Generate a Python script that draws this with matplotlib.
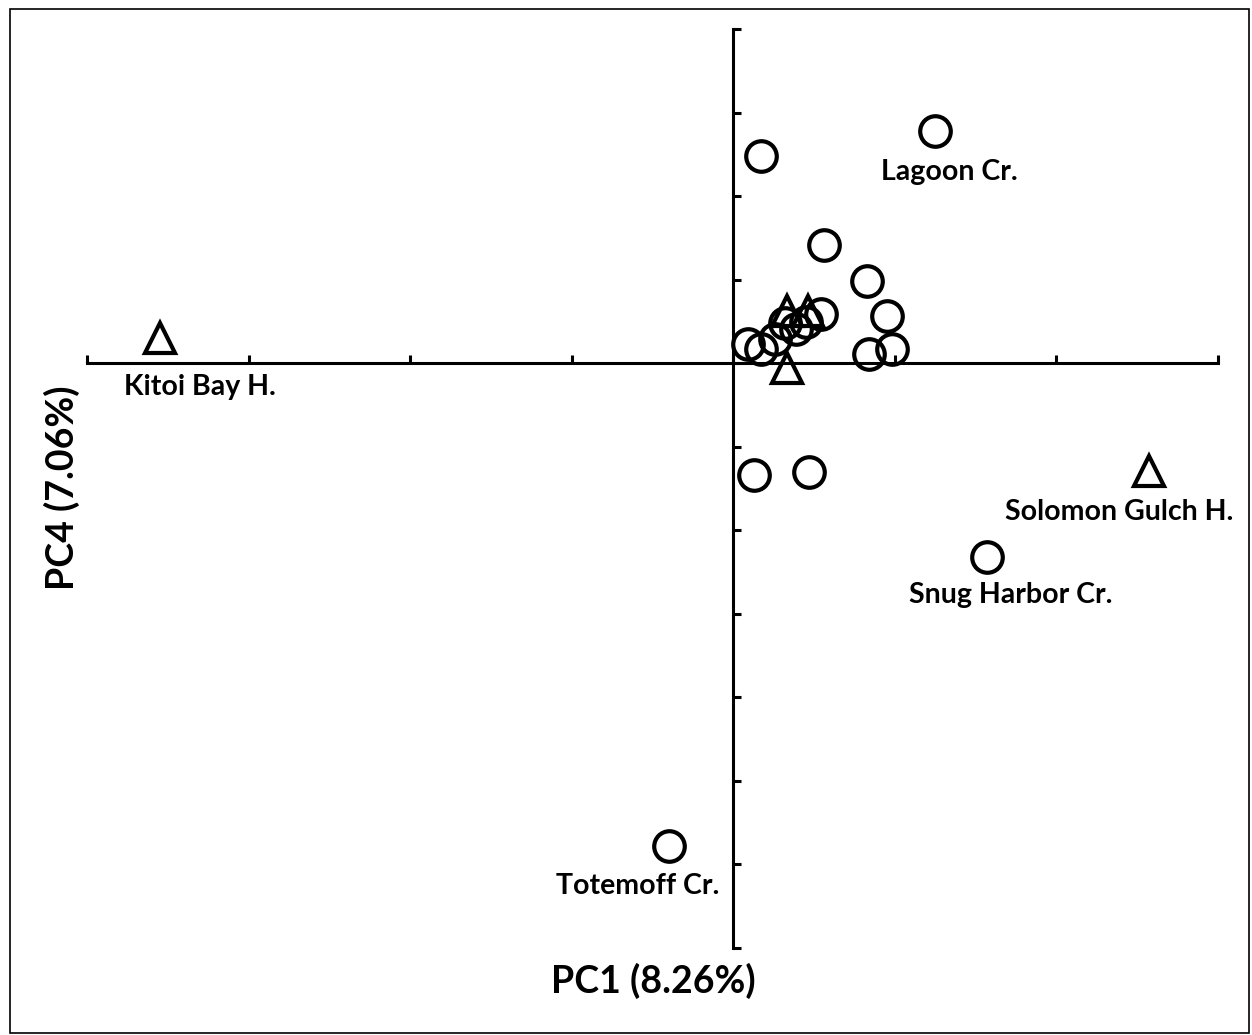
import matplotlib
matplotlib.use("Agg")
import matplotlib.pyplot as plt
from matplotlib.patches import Rectangle

# ---------------------------
# Data (PC1, PC4 scores)
# ---------------------------
circle_pc1 = [1.25, 0.17, 0.56, 0.83, 0.95, 0.84, 0.98, 0.09, 0.17, 0.26,
              0.32, 0.39, 0.45, 0.54, 0.13, 0.47, 1.57, -0.40]
circle_pc4 = [2.78, 2.48, 1.41, 0.98, 0.56, 0.11, 0.17, 0.23, 0.17, 0.29,
              0.48, 0.41, 0.49, 0.59, -1.34, -1.30, -2.32, -5.78]

triangle_pc1 = [-3.55, 0.33, 0.46, 0.33, 2.57]
triangle_pc4 = [0.30, 0.62, 0.63, -0.06, -1.29]

label_names = ["Lagoon Cr.", "Kitoi Bay H.", "Solomon Gulch H.", "Snug Harbor Cr.", "Totemoff Cr."]
label_pc1 = [1.34, -3.30, 2.39, 1.72, -0.59]
label_pc4 = [2.29, -0.28, -1.78, -2.78, -6.26]

x_ticks = [-4, -3, -2, -1, 0, 1, 2, 3]
y_ticks = [-7, -6, -5, -4, -3, -2, -1, 0, 1, 2, 3, 4]

plt.rcParams["font.family"] = ["Lato", "DejaVu Sans"]

W, H = 1252, 1035
fig = plt.figure(figsize=(W / 100, H / 100), dpi=100)

# axes placed so the spines run exactly over the drawn axis extent
left, right = 87 / W, 1218 / W
top, bottom = 1 - 29 / H, 1 - 948 / H
ax = fig.add_axes([left, bottom, right - left, top - bottom])
ax.set_xlim(x_ticks[0], x_ticks[-1])
ax.set_ylim(y_ticks[0], y_ticks[-1])
ax.patch.set_visible(False)

for s in ["top", "right"]:
    ax.spines[s].set_visible(False)
ax.spines["left"].set_position(("data", 0))
ax.spines["bottom"].set_position(("data", 0))
for s in ["left", "bottom"]:
    ax.spines[s].set_linewidth(2.2)
ax.set_xticks(x_ticks)
ax.set_yticks(y_ticks)
ax.tick_params(direction="in", length=6, width=2.2, labelleft=False, labelbottom=False)

ax.plot(circle_pc1, circle_pc4, linestyle="none", marker="o", markersize=22,
        markerfacecolor="none", markeredgecolor="black", markeredgewidth=3, clip_on=False)
ax.plot(triangle_pc1, triangle_pc4, linestyle="none", marker="^", markersize=21,
        markerfacecolor="none", markeredgecolor="black", markeredgewidth=3, clip_on=False)

for name, lx, ly in zip(label_names, label_pc1, label_pc4):
    ax.text(lx, ly, name, ha="center", va="center", fontsize=20.5, fontweight="bold")

fig.text(653 / W, 1 - 981 / H, "PC1 (8.26%)", ha="center", va="center",
         fontsize=27, fontweight="bold")
fig.text(62 / W, 1 - 488 / H, "PC4 (7.06%)", ha="center", va="center",
         fontsize=27, fontweight="bold", rotation=90)

# outer frame
fig.patches.append(Rectangle((10 / W, 2 / H), 1239 / W, 1024 / H, transform=fig.transFigure,
                             fill=False, edgecolor="black", linewidth=1.2))

fig.savefig("out.png", dpi=100)
